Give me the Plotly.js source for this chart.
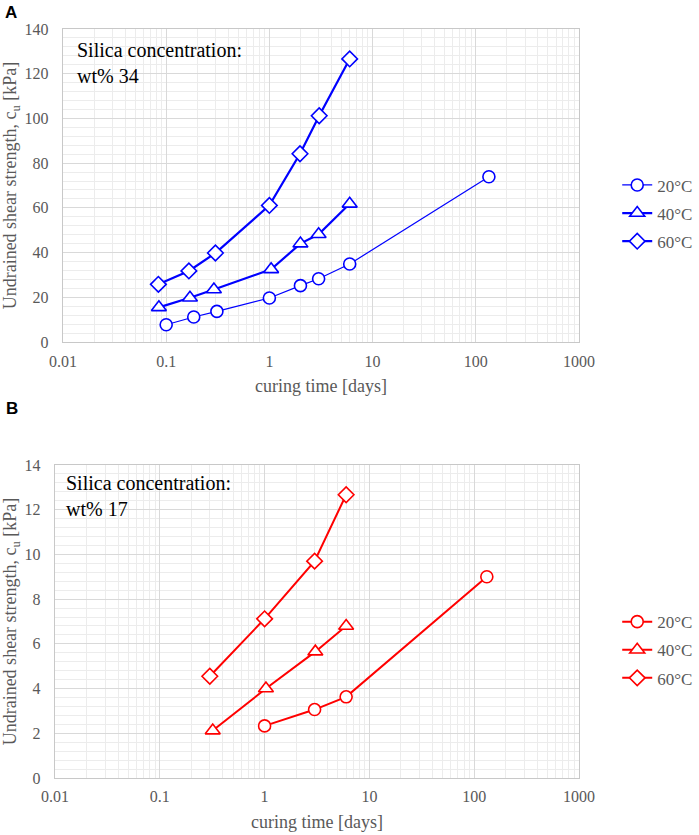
<!DOCTYPE html>
<html>
<head>
<meta charset="utf-8">
<script src="https://cdn.plot.ly/plotly-3.0.1.min.js"></script>
<style>
  html, body { margin: 0; padding: 0; background: #fff; }
  #chart { width: 699px; height: 835px; }
</style>
</head>
<body>
<div id="chart"></div>
<script>
// panel A: silica wt% 34
const a20Days = [0.1, 0.185, 0.31, 1, 2, 3, 6, 134];
const a20Cu   = [7.7, 11.2, 13.7, 19.7, 25.2, 28.3, 34.9, 73.9];
const a40Days = [0.085, 0.17, 0.29, 1.04, 2, 3, 6];
const a40Cu   = [15.5, 19.8, 23.5, 32.5, 44, 48.2, 61.8];
const a60Days = [0.084, 0.166, 0.3, 1, 1.98, 3.04, 6];
const a60Cu   = [25.8, 31.8, 39.8, 61.1, 84.2, 101.2, 126.6];

// panel B: silica wt% 17
const b20Days = [1, 3, 6, 132];
const b20Cu   = [2.33, 3.06, 3.63, 9.0];
const b40Days = [0.32, 1.03, 3.05, 6];
const b40Cu   = [2.12, 4.0, 5.65, 6.8];
const b60Days = [0.3, 1, 3, 6];
const b60Cu   = [4.55, 7.12, 9.7, 12.67];

const seriesNames = ['20°C', '40°C', '60°C'];
const xTickVals = [0.01, 0.1, 1, 10, 100, 1000];
const xTickText = ['0.01', '0.1', '1', '10', '100', '1000'];

const BLUE = '#0000ff';
const RED = '#ff0000';
const GREY = '#595959';
const SERIF = 'Liberation Serif';
const SANS = 'Liberation Sans';

function series(x, y, name, color, symbol, size, width, xa, ya, leg) {
  return {
    x: x, y: y, name: name, type: 'scatter', mode: 'lines+markers',
    xaxis: xa, yaxis: ya, legend: leg,
    line: { color: color, width: width },
    marker: { symbol: symbol, size: size, color: '#ffffff', line: { color: color, width: 1.6 } }
  };
}

const traces = [
  series(a20Days, a20Cu, seriesNames[0], BLUE, 'circle', 12, 1.2, 'x', 'y', 'legend'),
  series(a40Days, a40Cu, seriesNames[1], BLUE, 'triangle-up', 13, 2.2, 'x', 'y', 'legend'),
  series(a60Days, a60Cu, seriesNames[2], BLUE, 'diamond', 12, 2.2, 'x', 'y', 'legend'),
  series(b20Days, b20Cu, seriesNames[0], RED, 'circle', 12, 2, 'x2', 'y2', 'legend2'),
  series(b40Days, b40Cu, seriesNames[1], RED, 'triangle-up', 13, 2, 'x2', 'y2', 'legend2'),
  series(b60Days, b60Cu, seriesNames[2], RED, 'diamond', 12, 2, 'x2', 'y2', 'legend2')
];
traces.forEach((t, i) => { t.legendgroup = 'g' + i; });

function xAxis(domain, anchor) {
  return {
    type: 'log', range: [-2, 3], domain: domain, anchor: anchor,
    tickvals: xTickVals, ticktext: xTickText,
    showline: true, linecolor: '#c8c8c8', linewidth: 1.3, mirror: true,
    gridcolor: '#d9d9d9', gridwidth: 1.2, zeroline: false,
    ticks: '', ticklabelstandoff: 4,
    tickfont: { family: SERIF, size: 16, color: GREY },
    minor: { dtick: 'D1', showgrid: true, gridcolor: '#ececec', gridwidth: 1, ticks: '' },
    title: { text: 'curing time [days]', font: { family: SERIF, size: 18, color: GREY }, standoff: 11 },
    automargin: false
  };
}

function yAxis(domain, anchor, range, dtick, minorStep) {
  return {
    range: range, dtick: dtick, domain: domain, anchor: anchor,
    showline: true, linecolor: '#c8c8c8', linewidth: 1.3, mirror: true,
    gridcolor: '#d9d9d9', gridwidth: 1.2, zeroline: false,
    ticks: '', ticklabelstandoff: 10,
    tickfont: { family: SERIF, size: 16, color: GREY },
    minor: { dtick: minorStep, showgrid: true, gridcolor: '#ececec', gridwidth: 1, ticks: '' },
    title: { text: 'Undrained shear strength, c<sub>u</sub> [kPa]', font: { family: SERIF, size: 18, color: GREY }, standoff: 6 },
    automargin: false
  };
}

function legendAt(y) {
  return {
    x: 0.883, xanchor: 'left', y: y, yanchor: 'top',
    font: { family: SERIF, size: 17, color: GREY },
    bgcolor: 'rgba(0,0,0,0)', tracegroupgap: 3, itemwidth: 30
  };
}

const layout = {
  width: 699, height: 835,
  margin: { l: 0, r: 0, t: 0, b: 0 },
  paper_bgcolor: '#ffffff', plot_bgcolor: '#ffffff',
  font: { family: SERIF },
  showlegend: true,
  xaxis: xAxis([0.0901, 0.8283], 'y'),
  yaxis: yAxis([0.5904, 0.9653], 'x', [0, 140], 20, 4),
  xaxis2: xAxis([0.0787, 0.8283], 'y2'),
  yaxis2: yAxis([0.0683, 0.4431], 'x2', [0, 14], 2, 0.4),
  legend: legendAt(0.7995),
  legend2: legendAt(0.2765),
  annotations: [
    { text: '<b>A</b>', xref: 'paper', yref: 'paper', x: 0.004, y: 0.999, xanchor: 'left', yanchor: 'top',
      showarrow: false, font: { family: SANS, size: 17, color: '#000' } },
    { text: '<b>B</b>', xref: 'paper', yref: 'paper', x: 0.006, y: 0.525, xanchor: 'left', yanchor: 'top',
      showarrow: false, font: { family: SANS, size: 17, color: '#000' } },
    { text: 'Silica concentration:<br>wt% 34', xref: 'x domain', yref: 'y domain', x: 0.023, y: 0.975,
      xanchor: 'left', yanchor: 'top', align: 'left', showarrow: false,
      font: { family: SERIF, size: 20, color: '#000' } },
    { text: 'Silica concentration:<br>wt% 17', xref: 'x2 domain', yref: 'y2 domain', x: 0.017, y: 0.985,
      xanchor: 'left', yanchor: 'top', align: 'left', showarrow: false,
      font: { family: SERIF, size: 20, color: '#000' } }
  ]
};

Plotly.newPlot('chart', traces, layout, { displayModeBar: false, staticPlot: true });
</script>
</body>
</html>
